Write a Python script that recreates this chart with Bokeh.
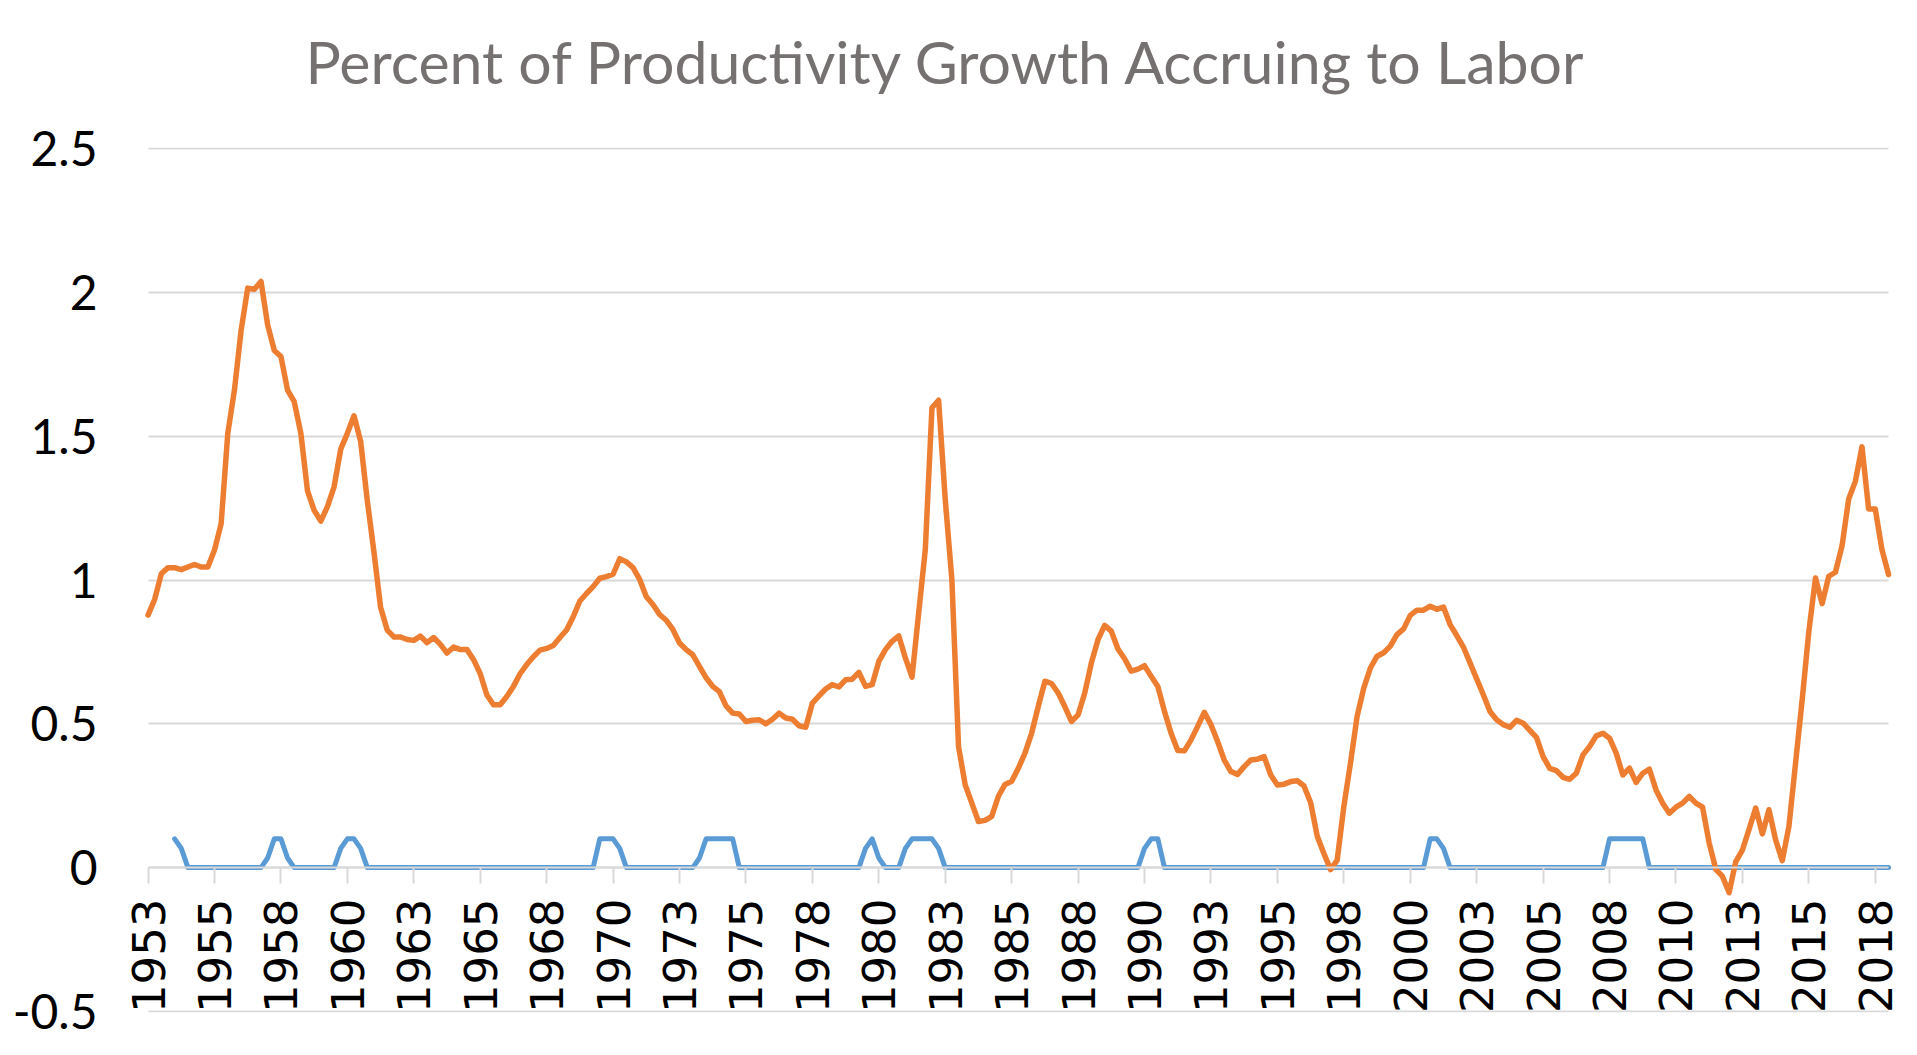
import math
from bokeh.plotting import figure
from bokeh.models import Range1d, FixedTicker, ColumnDataSource, LinearAxis, Title
from bokeh.embed import file_html
from bokeh.resources import INLINE

# Quarterly categories 1953Q1 .. 2018Q3
quarters = [f"{1953 + k // 4}Q{k % 4 + 1}" for k in range(263)]

labor_share = [
    0.878, 0.933, 1.022, 1.043, 1.043, 1.036, 1.045, 1.054, 1.045, 1.045,
    1.104, 1.196, 1.510, 1.660, 1.867, 2.015, 2.011, 2.038, 1.887, 1.798,
    1.777, 1.660, 1.620, 1.510, 1.310, 1.242, 1.205, 1.255, 1.324, 1.455,
    1.510, 1.571, 1.482, 1.276, 1.098, 0.905, 0.826, 0.802, 0.802, 0.793,
    0.790, 0.805, 0.782, 0.800, 0.776, 0.746, 0.767, 0.758, 0.758, 0.723,
    0.674, 0.600, 0.566, 0.566, 0.595, 0.630, 0.674, 0.706, 0.733, 0.756,
    0.762, 0.772, 0.800, 0.826, 0.872, 0.927, 0.953, 0.977, 1.006, 1.012,
    1.020, 1.074, 1.063, 1.043, 1.002, 0.942, 0.915, 0.880, 0.860, 0.828,
    0.781, 0.758, 0.740, 0.700, 0.660, 0.630, 0.612, 0.562, 0.537, 0.534,
    0.508, 0.512, 0.514, 0.500, 0.516, 0.537, 0.520, 0.516, 0.493, 0.488,
    0.572, 0.597, 0.621, 0.636, 0.628, 0.653, 0.655, 0.679, 0.630, 0.636,
    0.717, 0.758, 0.787, 0.806, 0.729, 0.662, 0.885, 1.106, 1.599, 1.625,
    1.280, 1.001, 0.421, 0.288, 0.224, 0.160, 0.164, 0.178, 0.248, 0.289,
    0.300, 0.345, 0.398, 0.467, 0.560, 0.648, 0.640, 0.607, 0.560, 0.508,
    0.531, 0.607, 0.712, 0.793, 0.842, 0.822, 0.760, 0.726, 0.683, 0.690,
    0.702, 0.665, 0.630, 0.543, 0.467, 0.407, 0.406, 0.444, 0.491, 0.540,
    0.497, 0.438, 0.374, 0.334, 0.324, 0.351, 0.374, 0.377, 0.386, 0.322,
    0.287, 0.290, 0.299, 0.302, 0.284, 0.226, 0.109, 0.049, -0.007, 0.026,
    0.212, 0.363, 0.526, 0.624, 0.694, 0.735, 0.747, 0.770, 0.810, 0.830,
    0.877, 0.895, 0.895, 0.909, 0.898, 0.906, 0.845, 0.807, 0.767, 0.712,
    0.656, 0.601, 0.543, 0.514, 0.497, 0.488, 0.512, 0.502, 0.477, 0.453,
    0.386, 0.345, 0.337, 0.314, 0.307, 0.328, 0.392, 0.421, 0.458, 0.467,
    0.450, 0.398, 0.322, 0.346, 0.296, 0.328, 0.342, 0.270, 0.224, 0.189,
    0.210, 0.224, 0.247, 0.224, 0.210, 0.085, -0.006, -0.031, -0.087, 0.021,
    0.061, 0.133, 0.207, 0.117, 0.201, 0.096, 0.024, 0.143, 0.363, 0.584,
    0.821, 1.007, 0.918, 1.013, 1.027, 1.119, 1.282, 1.343, 1.463, 1.247,
    1.247, 1.106, 1.019,
]

# Recession indicator (quarterly share of recession months x 0.1); starts 1954Q1
NA = float("nan")
recession = [NA, NA, NA, NA] + [0.0] * 259
recession_quarters = {
    "1954Q1": 0.1, "1954Q2": 0.0667,
    "1957Q3": 0.0333, "1957Q4": 0.1, "1958Q1": 0.1, "1958Q2": 0.0333,
    "1960Q2": 0.0667, "1960Q3": 0.1, "1960Q4": 0.1, "1961Q1": 0.0667,
    "1970Q1": 0.1, "1970Q2": 0.1, "1970Q3": 0.1, "1970Q4": 0.0667,
    "1973Q4": 0.0333, "1974Q1": 0.1, "1974Q2": 0.1, "1974Q3": 0.1, "1974Q4": 0.1, "1975Q1": 0.1,
    "1980Q1": 0.0667, "1980Q2": 0.1, "1980Q3": 0.0333,
    "1981Q3": 0.0667, "1981Q4": 0.1, "1982Q1": 0.1, "1982Q2": 0.1, "1982Q3": 0.1, "1982Q4": 0.0667,
    "1990Q3": 0.0667, "1990Q4": 0.1, "1991Q1": 0.1,
    "2001Q2": 0.1, "2001Q3": 0.1, "2001Q4": 0.0667,
    "2008Q1": 0.1, "2008Q2": 0.1, "2008Q3": 0.1, "2008Q4": 0.1, "2009Q1": 0.1, "2009Q2": 0.1,
}
for q, v in recession_quarters.items():
    recession[quarters.index(q)] = v

tick_every = 10
tick_positions = list(range(0, len(quarters), tick_every))
tick_labels = [quarters[i][:4] for i in tick_positions]
y_ticks = [-0.5, 0, 0.5, 1, 1.5, 2, 2.5]
y_tick_labels = ["-0.5", "0", "0.5", "1", "1.5", "2", "2.5"]
title_text = "Percent of Productivity Growth Accruing to Labor"

n_last = len(quarters) - 1
src = ColumnDataSource(dict(
    x=list(range(len(quarters))),
    q=quarters,
    labor=labor_share,
    rec=recession,
))

# room beside the first/last category so rotated labels are not clipped
x_pad_left = 4.0
x_pad_right = 2.4
y_pad = 0.004  # keeps the outer gridlines fully visible

p = figure(width=1908, height=1039, output_backend="svg", toolbar_location=None,
           x_range=Range1d(-x_pad_left, n_last + x_pad_right),
           y_range=Range1d(y_ticks[0] - y_pad, y_ticks[-1] + y_pad),
           min_border_left=121, min_border_right=4, min_border_top=147,
           min_border_bottom=27)
p.title = None
p.outline_line_color = None
p.background_fill_color = "white"
p.border_fill_color = "white"

# invisible spacer between frame and title: one white tick, empty label
spacer = LinearAxis(ticker=FixedTicker(ticks=[0]), axis_line_color=None,
                    major_tick_line_color="white", major_tick_line_width=1,
                    minor_tick_line_color=None,
                    major_tick_out=46, major_tick_in=0, minor_tick_out=0, minor_tick_in=0,
                    major_label_standoff=0, major_label_overrides={0: ""},
                    major_label_text_font_size="1px")
p.add_layout(spacer, "above")

title = Title(text=title_text, text_font="Lato", text_font_size="59px",
              text_font_style="normal", text_color="#767171",
              align="left", offset=184, standoff=10)
p.add_layout(title, "above")

# gridlines only over the category span
grid = p.ygrid[0]
grid.ticker = FixedTicker(ticks=y_ticks)
grid.grid_line_color = "#d9d9d9"
grid.grid_line_width = 2
p.xgrid.grid_line_color = None
if "cross_bounds" in grid.properties():
    grid.cross_bounds = (0, n_last)
else:
    grid.grid_line_color = None
    p.segment(x0=[0] * len(y_ticks), x1=[n_last] * len(y_ticks), y0=y_ticks, y1=y_ticks,
              line_color="#d9d9d9", line_width=2, level="underlay")

p.line("x", "rec", source=src, line_color="#5B9BD5", line_width=5,
       line_join="round", line_cap="round")
p.line("x", "labor", source=src, line_color="#ED7D31", line_width=5.5,
       line_join="round", line_cap="round")

# x axis crossing at zero
xa = p.below[0]
xa.fixed_location = 0
xa.bounds = (0, n_last)
xa.ticker = FixedTicker(ticks=tick_positions)
xa.major_label_overrides = {t: l for t, l in zip(tick_positions, tick_labels)}
xa.major_label_orientation = math.pi / 2
xa.major_label_text_font = "DejaVu Sans"
xa.major_label_text_font_size = "45px"
xa.major_label_text_color = "black"
xa.major_label_standoff = 15
xa.axis_line_color = "#d9d9d9"
xa.axis_line_width = 2
xa.major_tick_line_color = "#d9d9d9"
xa.major_tick_line_width = 2
xa.major_tick_out = 16
xa.major_tick_in = 0
xa.minor_tick_line_color = None

ya = p.left[0]
ya.ticker = FixedTicker(ticks=y_ticks)
ya.major_label_overrides = {t: l for t, l in zip(y_ticks, y_tick_labels)}
ya.major_label_text_font = "Lato"
ya.major_label_text_font_size = "48px"
ya.major_label_text_color = "black"
ya.major_label_standoff = 18
ya.axis_line_color = None
ya.major_tick_line_color = None
ya.minor_tick_line_color = None

open("out.html", "w").write(file_html(p, INLINE))
